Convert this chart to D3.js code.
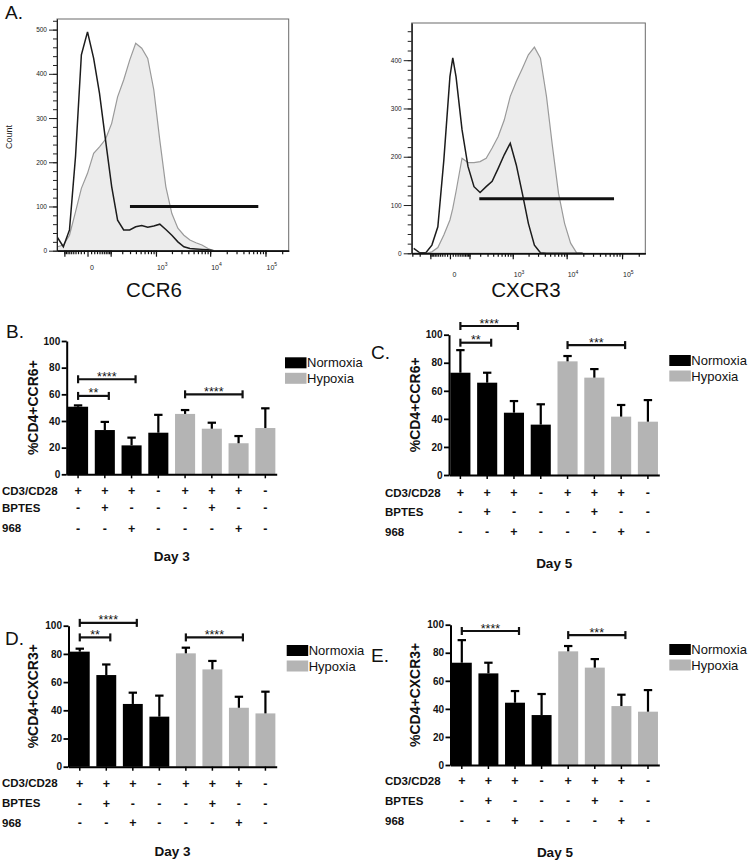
<!DOCTYPE html>
<html><head><meta charset="utf-8">
<script src="https://cdn.jsdelivr.net/npm/d3@7"></script>
<style>body{margin:0;background:#fff} svg{display:block}</style>
</head><body>
<svg id="fig" width="750" height="861"></svg>
<script>
// ---------------- Panel A: flow cytometry histograms ----------------
const ccr6Channels = [-154,-107,-69,-40,-18,0,18,40,69,107,154,216,295,396,526,693,908,1183,1537,1991,2574,3323,4284,5518,7105,9140,11760];
const ccr6Isotype  = [30,9,47,213,443,495,435,356,250,145,69,47,47,54,57,53,56,60,48,35,20,9,5,4,3,2,0];
const ccr6Stained  = [9,13,35,88,141,175,220,235,252,288,348,386,431,469,458,435,364,250,145,84,51,35,24,18,13,5,0];

const cxcr3Channels = [-279,-199,-137,-89,-52,-23,0,10,23,52,89,137,199,279,380,511,679,894,1171,1527,1983,2570,3322,4288,5527,7121,9167,11793,15166,19495];
const cxcr3Isotype  = [10,1,1,17,55,193,366,405,366,256,180,138,126,138,149,176,204,228,183,124,62,17,1,0,0,0,0,0,0,0];
const cxcr3Stained  = [0,0,0,3,12,38,69,93,128,197,188,188,190,197,218,242,276,325,356,383,411,427,404,325,221,124,62,21,1,0];

const gateLow   = [299, 190];
const gateHigh  = [74200, 71700];
const gateCount = [100, 113];
const histMarkers = ["CCR6", "CXCR3"];
const ccr6CountTicks  = [0,100,200,300,400,500];
const cxcr3CountTicks = [0,100,200,300,400];

// ---------------- Panels B–E: bar charts ----------------
const groups = ["Normoxia","Normoxia","Normoxia","Normoxia","Hypoxia","Hypoxia","Hypoxia","Hypoxia"];
const rowNames = ["CD3/CD28","BPTES","968"];
const cd3Row   = ["+","+","+","-","+","+","+","-"];
const bptesRow = ["-","+","-","-","-","+","-","-"];
const c968Row  = ["-","-","+","-","-","-","+","-"];
const yTicks = [0,20,40,60,80,100];

const ccr6Day3Mean  = [50.7,33.2,21.7,31.2,45.3,34.2,23.3,34.7];
const ccr6Day3Err   = [1.0,6.1,5.8,13.4,2.9,4.5,5.4,14.8];
const ccr6Day5Mean  = [72.9,65.8,44.4,35.9,81.0,69.4,41.6,38.0];
const ccr6Day5Err   = [16.1,7.1,8.3,14.5,3.8,6.1,8.3,15.4];
const cxcr3Day3Mean = [81.6,65.0,44.5,35.5,80.4,69.0,41.8,37.8];
const cxcr3Day3Err  = [2.1,7.5,8.0,14.9,4.0,6.0,7.8,15.4];
const cxcr3Day5Mean = [72.9,65.3,44.4,35.6,81.0,69.4,42.0,38.0];
const cxcr3Day5Err  = [16.1,7.6,8.3,15.0,3.8,6.1,8.1,15.4];

// [from bar, to bar, height, label]
const ccr6Day3Sig  = [[0,2,71.3,"****"],[0,1,58.8,"**"],[4,6,60.0,"****"]];
const ccr6Day5Sig  = [[0,2,106.2,"****"],[0,1,94.3,"**"],[4,6,92.6,"***"]];
const cxcr3Day3Sig = [[0,2,102.0,"****"],[0,1,91.7,"**"],[4,6,91.7,"****"]];
const cxcr3Day5Sig = [[0,2,95.5,"****"],[4,6,92.6,"***"]];

// ======================================================================
const FONT = "Arial, 'Liberation Sans', Helvetica, sans-serif";
const svg = d3.select("#fig");
svg.append("rect").attr("width",750).attr("height",861).attr("fill","#fff");

function drawHist(cfg, channels, iso, stained, gi) {
  const g = svg.append("g");
  const x = d3.scaleSymlog().constant(cfg.c).domain([cfg.xmin, 262144]).range([cfg.left, cfg.right]);
  const y = d3.scaleLinear().domain([0, cfg.ymax]).range([cfg.zero, cfg.top]);
  const clipId = "clip" + gi;
  svg.append("clipPath").attr("id", clipId).append("rect")
    .attr("x", cfg.left).attr("y", cfg.top).attr("width", cfg.right - cfg.left).attr("height", cfg.zero - cfg.top);
  const sPts = channels.map((c,i)=>[c, stained[i]]);
  const iPts = channels.map((c,i)=>[c, iso[i]]);
  const area = d3.area().x(d=>x(d[0])).y0(y(0)).y1(d=>y(d[1]));
  const line = d3.line().x(d=>x(d[0])).y(d=>y(d[1]));
  const pg = g.append("g").attr("clip-path", `url(#${clipId})`);
  pg.append("path").datum(sPts).attr("d", area).attr("fill", "#ececec");
  pg.append("path").datum(sPts).attr("d", line).attr("fill","none").attr("stroke","#9a9a9a").attr("stroke-width",1.2);
  pg.append("path").datum(iPts).attr("d", line).attr("fill","none").attr("stroke","#1c1c1c").attr("stroke-width",1.5);
  // frame
  g.append("rect").attr("x",cfg.left).attr("y",cfg.top).attr("width",cfg.right-cfg.left).attr("height",cfg.zero-cfg.top)
    .attr("fill","none").attr("stroke","#6a6a6a").attr("stroke-width",1);
  // gate
  g.append("line").attr("x1",x(gateLow[gi])).attr("x2",x(gateHigh[gi]))
    .attr("y1",y(gateCount[gi])).attr("y2",y(gateCount[gi]))
    .attr("stroke","#111").attr("stroke-width",2.8);
  // y axis
  const minorY = d3.range(0, cfg.ymax, 20);
  const ya1 = g.append("g").attr("transform",`translate(${cfg.left},0)`)
    .call(d3.axisLeft(y).tickValues(minorY).tickSize(4).tickFormat("").tickSizeOuter(0));
  const ya2 = g.append("g").attr("transform",`translate(${cfg.left},0)`)
    .call(d3.axisLeft(y).tickValues(cfg.yMajor).tickSize(8).tickPadding(2).tickFormat(d3.format("d")).tickSizeOuter(0));
  [ya1, ya2].forEach(a=>{a.selectAll("path,line").attr("stroke","#222").attr("stroke-width",1);});
  ya2.selectAll("text").attr("font-family",FONT).attr("font-size",6.5).attr("fill","#222");
  // x axis ticks
  const minorX = [];
  [10,100,1000,10000,100000].forEach(d=>{ for (let m=1;m<=9;m++){ const v=m*d;
      if (v<=262144) minorX.push(v); if (-v>=cfg.xmin) minorX.push(-v);} });
  const majorX = [-100, 0, 100, 1000, 10000, 100000];
  const xa1 = g.append("g").attr("transform",`translate(0,${cfg.zero})`)
    .call(d3.axisBottom(x).tickValues(minorX).tickSize(3.5).tickFormat("").tickSizeOuter(0));
  const xa2 = g.append("g").attr("transform",`translate(0,${cfg.zero})`)
    .call(d3.axisBottom(x).tickValues(majorX).tickSize(6).tickFormat("").tickSizeOuter(0));
  [xa1, xa2].forEach(a=>{a.selectAll(".tick line").attr("stroke","#111").attr("stroke-width",1.2);
    a.select(".domain").attr("stroke","#111").attr("stroke-width",1.5);});
  // x labels
  g.append("text").attr("x", x(0)+4.5).attr("y", cfg.labelBase).attr("text-anchor","middle")
    .attr("font-family",FONT).attr("font-size",7).attr("fill","#222").text("0");
  [3,4,5].forEach(p=>{
    const t = g.append("text").attr("x", x(Math.pow(10,p))+1).attr("y", cfg.labelBase)
      .attr("font-family",FONT).attr("font-size",7).attr("fill","#222");
    t.append("tspan").text("10");
    t.append("tspan").attr("dy",-3.5).attr("font-size",5).text(String(p));
  });
  // marker name
  g.append("text").attr("x", cfg.markerX).attr("y", 297).attr("text-anchor","middle")
    .attr("font-family",FONT).attr("font-size",20.5).attr("fill","#111").text(histMarkers[gi]);
  if (cfg.countLabel) {
    g.append("text").attr("transform","translate(9,137) rotate(-90)").attr("dy","0.35em")
      .attr("text-anchor","middle").attr("font-family",FONT).attr("font-size",9).attr("fill","#222").text("Count");
  }
}

drawHist({left:57, right:288.7, top:19, zero:250.7, c:62, xmin:-158, ymax:524, yMajor:ccr6CountTicks,
          labelBase:269.5, markerX:154, countLabel:true}, ccr6Channels, ccr6Isotype, ccr6Stained, 0);
drawHist({left:411.7, right:645.3, top:23, zero:253.3, c:80, xmin:-310, ymax:477, yMajor:cxcr3CountTicks,
          labelBase:277, markerX:526, countLabel:false}, cxcr3Channels, cxcr3Isotype, cxcr3Stained, 1);

svg.append("text").attr("x",5).attr("y",19).attr("font-family",FONT).attr("font-size",19).attr("fill","#111").text("A.");

const color = d3.scaleOrdinal().domain(["Normoxia","Hypoxia"]).range(["#000000","#b4b4b4"]);

function drawBars(cfg, mean, err, sig) {
  const g = svg.append("g");
  const x = d3.scaleBand().domain(d3.range(mean.length)).range([cfg.x0, cfg.x1]).paddingInner(0.25).paddingOuter(0.05);
  const y = d3.scaleLinear().domain([0,100]).range([cfg.zero, cfg.top]);
  const cx = i => x(i) + x.bandwidth()/2;
  g.selectAll("rect.bar").data(mean).join("rect").attr("class","bar")
    .attr("x",(d,i)=>x(i)).attr("y",d=>y(d)).attr("width",x.bandwidth()).attr("height",d=>y(0)-y(d))
    .attr("fill",(d,i)=>color(groups[i]));
  mean.forEach((m,i)=>{
    const top = y(m + err[i]);
    g.append("line").attr("x1",cx(i)).attr("x2",cx(i)).attr("y1",y(m)).attr("y2",top).attr("stroke","#000").attr("stroke-width",2.2);
    g.append("line").attr("x1",cx(i)-4.2).attr("x2",cx(i)+4.2).attr("y1",top).attr("y2",top).attr("stroke","#000").attr("stroke-width",2.2);
  });
  const ya = g.append("g").attr("transform",`translate(${cfg.x0},0)`)
    .call(d3.axisLeft(y).tickValues(yTicks).tickSize(5).tickPadding(1.5).tickSizeOuter(0));
  ya.select(".domain").attr("stroke","#000").attr("stroke-width",2);
  ya.selectAll(".tick line").attr("stroke","#000").attr("stroke-width",1.8);
  ya.selectAll("text").attr("font-family",FONT).attr("font-weight","bold").attr("font-size",10).attr("fill","#111");
  const xa = g.append("g").attr("transform",`translate(0,${cfg.zero})`)
    .call(d3.axisBottom(x).tickSize(4).tickFormat("").tickSizeOuter(0));
  xa.select(".domain").attr("stroke","#000").attr("stroke-width",2);
  xa.selectAll(".tick line").attr("stroke","#000").attr("stroke-width",1.5);
  // significance brackets
  sig.forEach(([a,b,v,lab])=>{
    const xa1 = cx(a), xb1 = cx(b) + 4, yy = y(v);
    g.append("line").attr("x1",xa1).attr("x2",xb1).attr("y1",yy).attr("y2",yy).attr("stroke","#111").attr("stroke-width",2.2);
    [xa1, xb1].forEach(xx=>g.append("line").attr("x1",xx).attr("x2",xx).attr("y1",yy-4).attr("y2",yy+4).attr("stroke","#111").attr("stroke-width",2.2));
    g.append("text").attr("x",(xa1+xb1)/2).attr("y",yy+1.5).attr("text-anchor","middle")
      .attr("font-family",FONT).attr("font-size",12.5).attr("fill","#111").text(lab);
  });
  // title
  g.append("text").attr("transform",`translate(${cfg.titleX},${(cfg.zero+cfg.top)/2}) rotate(-90)`).attr("dy","0.35em")
    .attr("text-anchor","middle").attr("font-family",FONT).attr("font-weight","bold").attr("font-size",14).attr("fill","#111").text(cfg.title);
  // condition rows
  [cd3Row, bptesRow, c968Row].forEach((row, r)=>{
    const yy = cfg.zero + cfg.rows[r];
    g.append("text").attr("x",cfg.rowX).attr("y",yy).attr("dy","0.35em")
      .attr("font-family",FONT).attr("font-weight","bold").attr("font-size",11.5).attr("fill","#111").text(rowNames[r]);
    row.forEach((s,i)=>g.append("text").attr("x",cx(i)).attr("y",yy).attr("dy","0.35em").attr("text-anchor","middle")
      .attr("font-family",FONT).attr("font-weight","bold").attr("font-size",12.5).attr("fill","#111").text(s));
  });
  g.append("text").attr("x",(cfg.x0+cfg.x1)/2).attr("y",cfg.zero+cfg.dayY).attr("dy","0.35em").attr("text-anchor","middle")
    .attr("font-family",FONT).attr("font-weight","bold").attr("font-size",13.5).attr("fill","#111").text(cfg.day);
  // legend
  ["Normoxia","Hypoxia"].forEach((name,k)=>{
    const ly = cfg.legendY + k*15.5;
    g.append("rect").attr("x",cfg.legendX).attr("y",ly).attr("width",21.5).attr("height",11).attr("fill",color(name));
    g.append("text").attr("x",cfg.legendX+22).attr("y",ly+5.5).attr("dy","0.36em")
      .attr("font-family",FONT).attr("font-size",13).attr("fill","#111").text(name);
  });
  // panel letter
  g.append("text").attr("x",cfg.letterX).attr("y",cfg.letterY).attr("font-family",FONT).attr("font-size",19).attr("fill","#111").text(cfg.letter);
}

drawBars({x0:66.7, x1:276.7, zero:474.3, top:341, title:"%CD4+CCR6+", titleX:33, day:"Day 3",
          rows:[16.4,33.5,54], dayY:82.4, rowX:2, legendX:285, legendY:357.3, letter:"B.", letterX:6, letterY:338},
         ccr6Day3Mean, ccr6Day3Err, ccr6Day3Sig);
drawBars({x0:449, x1:659.3, zero:475, top:334.7, title:"%CD4+CCR6+", titleX:415, day:"Day 5",
          rows:[17.7,37,56.7], dayY:88.3, rowX:385, legendX:669.3, legendY:355, letter:"C.", letterX:371, letterY:359},
         ccr6Day5Mean, ccr6Day5Err, ccr6Day5Sig);
drawBars({x0:68.5, x1:276.7, zero:766.7, top:625.7, title:"%CD4+CXCR3+", titleX:33, day:"Day 3",
          rows:[16.7,36.7,56], dayY:85, rowX:2, legendX:286.7, legendY:645, letter:"D.", letterX:5, letterY:645},
         cxcr3Day3Mean, cxcr3Day3Err, cxcr3Day3Sig);
drawBars({x0:450.5, x1:659.3, zero:765, top:624.7, title:"%CD4+CXCR3+", titleX:415, day:"Day 5",
          rows:[15.7,35.7,55.7], dayY:87.3, rowX:385, legendX:669.3, legendY:644, letter:"E.", letterX:371, letterY:662},
         cxcr3Day5Mean, cxcr3Day5Err, cxcr3Day5Sig);
</script>
</body></html>
